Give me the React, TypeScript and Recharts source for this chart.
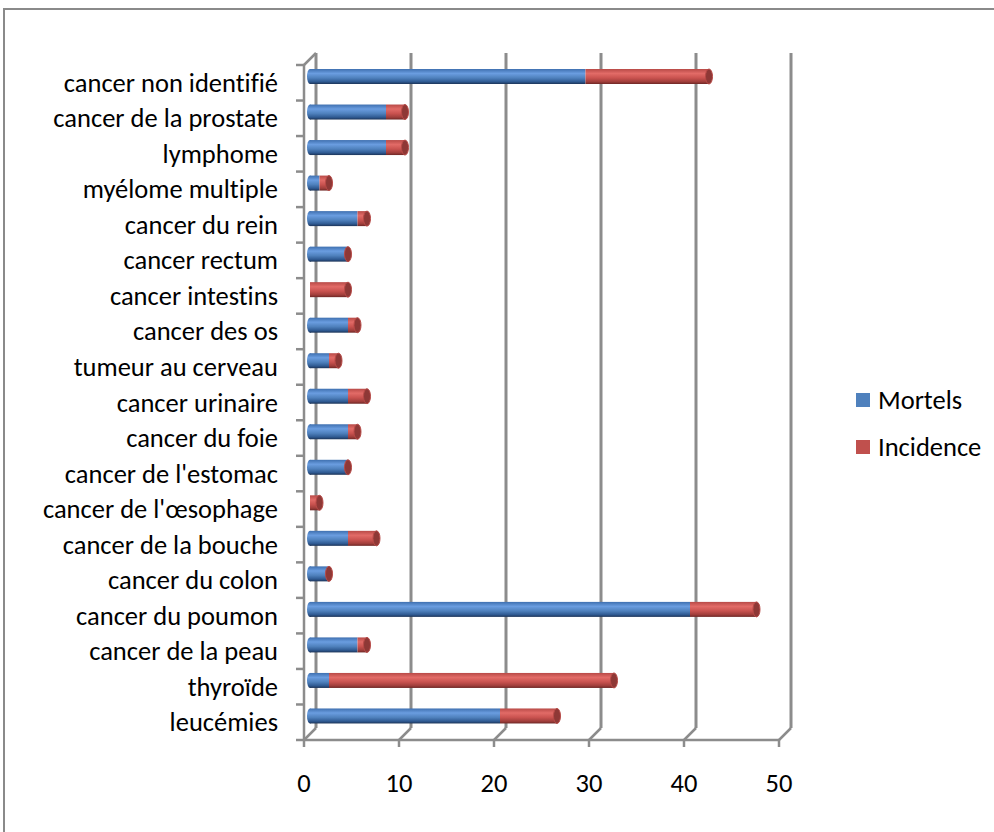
import { BarChart, Bar, XAxis, YAxis, CartesianGrid } from 'recharts';

const categories = [
  'cancer non identifié', 'cancer de la prostate', 'lymphome', 'myélome multiple',
  'cancer du rein', 'cancer rectum', 'cancer intestins', 'cancer des os',
  'tumeur au cerveau', 'cancer urinaire', 'cancer du foie', "cancer de l'estomac",
  "cancer de l'œsophage", 'cancer de la bouche', 'cancer du colon', 'cancer du poumon',
  'cancer de la peau', 'thyroïde', 'leucémies',
];
const mortels = [29, 8, 8, 1, 5, 4, 0, 4, 2, 4, 4, 4, 0, 4, 2, 40, 5, 2, 20];
const incidence = [13, 2, 2, 1, 1, 0, 4, 1, 1, 2, 1, 0, 1, 3, 0, 7, 1, 30, 6];
const xTicks = [0, 10, 20, 30, 40, 50];

const data = categories.map((name, i) => ({ name, mortels: mortels[i], incidence: incidence[i] }));

// layout of the fake 3d box (back wall = plot area)
const W = 994;
const H = 832;
const BACK_LEFT = 316;
const BACK_RIGHT = 791;
const BACK_TOP = 53;
const BACK_BOTTOM = 728;
const DEPTH = 12;
const BAND = (BACK_BOTTOM - BACK_TOP) / categories.length;
const STEP = (BACK_RIGHT - BACK_LEFT) / (xTicks.length - 1);
const AXIS = '#8c8c8c';
const FONT = "Carlito, 'Noto Sans', sans-serif";
const FS = 26.5;
const noLig = { fontVariantLigatures: 'none' } as any;

function FloorTick(props: any) {
  const { x, y, payload, index } = props;
  const fx = x - DEPTH;
  const fy = y + DEPTH;
  return (
    <g>
      <line x1={fx} y1={fy} x2={x} y2={y} stroke={AXIS} strokeWidth={2.5} />
      <line x1={fx} y1={fy} x2={fx} y2={fy + 7} stroke={AXIS} strokeWidth={2.5} />
      {index < xTicks.length - 1 && (
        <line x1={fx} y1={fy} x2={fx + STEP} y2={fy} stroke={AXIS} strokeWidth={2.5} />
      )}
      <text x={fx} y={fy + 43} textAnchor="middle" dominantBaseline="central" fontSize={FS} fill="#000" fontFamily={FONT}>
        {payload.value}
      </text>
    </g>
  );
}

function CategoryTick(props: any) {
  const { x, y, payload, index } = props;
  const fx = x - DEPTH;
  const top = y - BAND / 2 + DEPTH;
  return (
    <g>
      {index === 0 && (
        <>
          <line x1={fx} y1={top} x2={fx} y2={BACK_BOTTOM + DEPTH} stroke={AXIS} strokeWidth={2.5} />
          <line x1={fx} y1={top} x2={x} y2={top - DEPTH} stroke={AXIS} strokeWidth={2.5} />
        </>
      )}
      <line x1={fx - 8} y1={top} x2={fx} y2={top} stroke={AXIS} strokeWidth={2.5} />
      {index === categories.length - 1 && (
        <line x1={fx - 8} y1={top + BAND} x2={fx} y2={top + BAND} stroke={AXIS} strokeWidth={2.5} />
      )}
      <text x={x - 38} y={y + DEPTH} textAnchor="end" dominantBaseline="central" fontSize={FS} fill="#000" fontFamily={FONT} style={noLig}>
        {payload.value}
      </text>
    </g>
  );
}

function makeShape(grad: string, withCap: boolean, withLeft: boolean) {
  return (props: any) => {
    const { x, y, width, height } = props;
    if (x == null || y == null) return null;
    const bx = x - DEPTH / 2;
    const by = y + DEPTH / 2;
    const w = Math.max(0, width || 0);
    return (
      <g>
        {withLeft && w > 0 && <ellipse cx={bx} cy={by + height / 2} rx={3} ry={height / 2} fill={`url(#${grad})`} />}
        {w > 0 && <rect x={bx} y={by} width={w} height={height} fill={`url(#${grad})`} />}
        {withCap && (
          <ellipse cx={bx + w} cy={by + height / 2} rx={3.5} ry={height / 2} fill="#8e3836" stroke="#b84a47" strokeWidth={1} />
        )}
      </g>
    );
  };
}

const MortelsShape = makeShape('gradBlue', false, true);
const IncidenceShape = makeShape('gradRed', true, false);

export default function App() {
  return (
    <div style={{ position: 'absolute', left: 0, top: 0, width: W, height: H, overflow: 'hidden', background: '#fff' }}>
      <div style={{ position: 'absolute', left: 3, top: 8, width: 1100, height: 1000, border: '2px solid #8a8a8a' }} />
      <div style={{ position: 'absolute', left: 0, top: 0 }}>
        <BarChart
          width={W}
          height={H}
          data={data}
          layout="vertical"
          margin={{ top: BACK_TOP, right: W - BACK_RIGHT, bottom: 0, left: 0 }}
        >
          <defs>
            <linearGradient id="gradBlue" x1="0" y1="0" x2="0" y2="1">
              <stop offset="0%" stopColor="#3f70b0" />
              <stop offset="30%" stopColor="#6a9de0" />
              <stop offset="60%" stopColor="#4f81bd" />
              <stop offset="85%" stopColor="#2f5a92" />
              <stop offset="100%" stopColor="#1c3458" />
            </linearGradient>
            <linearGradient id="gradRed" x1="0" y1="0" x2="0" y2="1">
              <stop offset="0%" stopColor="#b84a47" />
              <stop offset="30%" stopColor="#e26b67" />
              <stop offset="60%" stopColor="#c9524f" />
              <stop offset="85%" stopColor="#a03e3b" />
              <stop offset="100%" stopColor="#6e2725" />
            </linearGradient>
          </defs>
          <CartesianGrid horizontal={false} stroke={AXIS} strokeWidth={3} />
          <XAxis
            type="number"
            domain={[0, 50]}
            ticks={xTicks}
            axisLine={false}
            tickLine={false}
            tickSize={0}
            tickMargin={0}
            height={H - BACK_BOTTOM}
            tick={<FloorTick />}
            interval={0}
          />
          <YAxis
            type="category"
            dataKey="name"
            width={BACK_LEFT}
            axisLine={false}
            tickLine={false}
            tickSize={0}
            tickMargin={0}
            tick={<CategoryTick />}
            interval={0}
          />
          <Bar dataKey="mortels" name="Mortels" stackId="a" fill="#4f81bd" barSize={15} shape={MortelsShape} isAnimationActive={false} />
          <Bar dataKey="incidence" name="Incidence" stackId="a" fill="#c0504d" barSize={15} shape={IncidenceShape} isAnimationActive={false} />
        </BarChart>
      </div>
      <div style={{ position: 'absolute', left: 856, top: 384, fontFamily: FONT, fontSize: FS, color: '#000', lineHeight: '32px', ...noLig }}>
        <div style={{ display: 'flex', alignItems: 'center', height: 32 }}>
          <span style={{ width: 14, height: 14, background: '#4f81bd', marginRight: 8, flex: 'none' }} />
          Mortels
        </div>
        <div style={{ display: 'flex', alignItems: 'center', height: 32, marginTop: 15 }}>
          <span style={{ width: 14, height: 14, background: '#c0504d', marginRight: 8, flex: 'none' }} />
          Incidence
        </div>
      </div>
    </div>
  );
}
